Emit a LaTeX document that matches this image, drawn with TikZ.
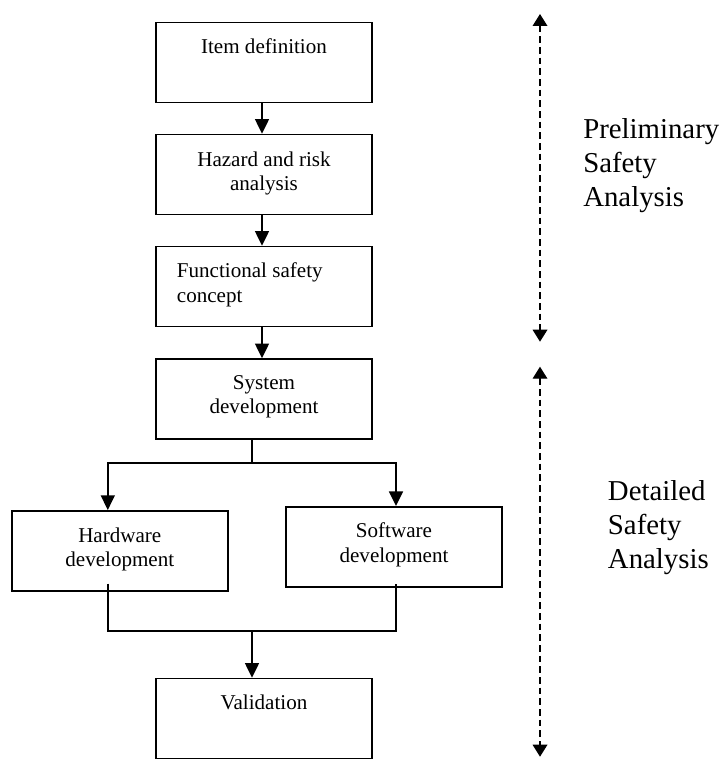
\documentclass[tikz,border=0pt]{standalone}
\usepackage{fontspec}
\setmainfont{Liberation Serif}
\usetikzlibrary{arrows.meta,calc}
\begin{document}
\begin{tikzpicture}[x=0.75pt,y=-0.75pt,
  stagebox/.style={draw,line width=1.2pt,minimum width=162pt,minimum height=60pt,inner sep=0pt},
  boxtext/.style={anchor=north,inner sep=0pt,align=center,font=\fontsize{15.8pt}{18.2pt}\selectfont},
  sidetext/.style={anchor=north west,inner sep=0pt,align=left,font=\fontsize{21.6pt}{25.5pt}\selectfont},
  flow/.style={line width=1.2pt},
  arr/.style={flow,-{Triangle[length=11pt,width=10.5pt]}},
  span/.style={line width=1pt,dash pattern=on 5pt off 3pt,
    {Triangle[length=9pt,width=11pt]}-{Triangle[length=9pt,width=11pt]}}]
\useasboundingbox (0,0) rectangle (726,767);

% process stages
\node[stagebox] (item) at (264,62.6) {};
\node[stagebox] (haz)  at (264,174.5) {};
\node[stagebox] (fsc)  at (264,286.5) {};
\node[stagebox] (sys)  at (264,399) {};
\node[stagebox] (hw)   at (119.8,550.8) {};
\node[stagebox] (sw)   at (394,546.8) {};
\node[stagebox] (val)  at (264,718.5) {};

% stage labels, set near the top of each box
\node[boxtext] (itemt) at (264,38.8) {Item definition};
\node[boxtext] (hazt)  at (264,151.2) {Hazard and risk\\analysis};
\node[boxtext,anchor=north west,align=left] (fsct) at (176.7,262.8) {Functional safety\\concept};
\node[boxtext] (syst)  at (264,374.8) {System\\development};
\node[boxtext] (hwt)   at (119.8,527.2) {Hardware\\development};
\node[boxtext] (swt)   at (394,522.8) {Software\\development};
\node[boxtext] (valt)  at (264,694.8) {Validation};

% sequential flow
\draw[arr] ([xshift=-1.5pt]item.south) -- ([xshift=-1.5pt]haz.north);
\draw[arr] ([xshift=-1.5pt]haz.south) -- ([xshift=-1.5pt]fsc.north);
\draw[arr] ([xshift=-1.5pt]fsc.south) -- ([xshift=-1.5pt]sys.north);

% split into hardware and software
\coordinate (split) at (252,462.7);
\draw[flow] (sys.south -| split) -- (split);
\draw[arr] (split) -| ([xshift=-9pt]hw.north);
\draw[arr] (split) -| ([xshift=1.5pt]sw.north);

% join towards validation
\coordinate (join) at (252,630.7);
\draw[flow] ([xshift=-9pt,yshift=6pt]hw.south) |- (join) -| ([xshift=1.5pt,yshift=3pt]sw.south);
\draw[arr] (join) -- (val.north -| join);

% analysis phases
\coordinate (pa1) at (540,14);
\coordinate (pa2) at (540,341.7);
\coordinate (da1) at (540,366.7);
\coordinate (da2) at (540,756.7);
\draw[span] (pa1) -- (pa2);
\draw[span] (da1) -- (da2);

\node[sidetext] (pre) at (583,118.6) {Preliminary\\Safety\\Analysis};
\node[sidetext] (det) at (607.7,480.3) {Detailed\\Safety\\Analysis};
\end{tikzpicture}
\end{document}
